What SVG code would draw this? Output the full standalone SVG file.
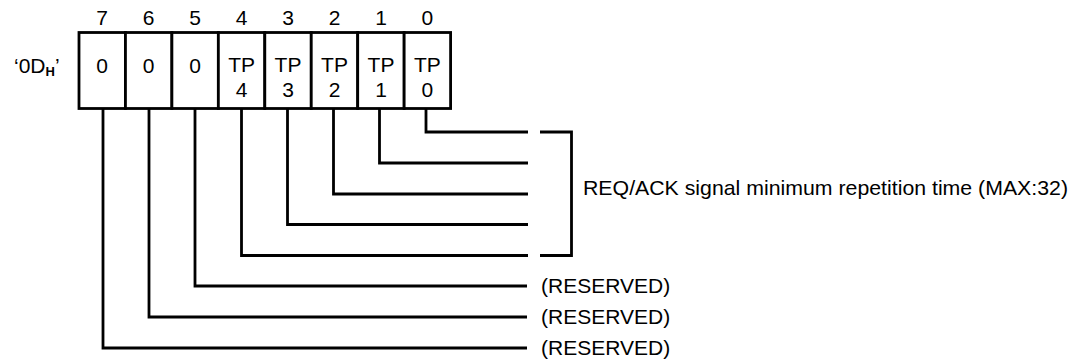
<svg xmlns="http://www.w3.org/2000/svg" width="1071" height="362" viewBox="0 0 1071 362">
<style>
text{font-family:"Liberation Sans",Arial,Helvetica,sans-serif;font-size:21px;fill:#000}
.c{text-anchor:middle}
.cell{fill:#fff;stroke:#000;stroke-width:2.8}
.ln{fill:none;stroke:#000;stroke-width:2.8;stroke-linejoin:miter;stroke-linecap:butt}
</style>
<rect width="1071" height="362" fill="#fff"/>
<g id="register-label"><text x="14" y="73">‘0D<tspan font-size="13" font-weight="bold" dy="3">H</tspan><tspan dy="-3">’</tspan></text></g>
<g id="bit-numbers">
<text class="c" x="102.2" y="25">7</text>
<text class="c" x="148.7" y="25">6</text>
<text class="c" x="195.1" y="25">5</text>
<text class="c" x="241.6" y="25">4</text>
<text class="c" x="288" y="25">3</text>
<text class="c" x="334.5" y="25">2</text>
<text class="c" x="381" y="25">1</text>
<text class="c" x="427.4" y="25">0</text>
</g>
<g id="bit7"><rect class="cell" x="79" y="32.5" width="46.45" height="76"/><text class="c" x="102.2" y="73">0</text></g>
<g id="bit6"><rect class="cell" x="125.45" y="32.5" width="46.45" height="76"/><text class="c" x="148.7" y="73">0</text></g>
<g id="bit5"><rect class="cell" x="171.9" y="32.5" width="46.45" height="76"/><text class="c" x="195.1" y="73">0</text></g>
<g id="bit4"><rect class="cell" x="218.35" y="32.5" width="46.45" height="76"/><text class="c" x="241.6" y="72">TP</text><text class="c" x="241.6" y="97">4</text></g>
<g id="bit3"><rect class="cell" x="264.8" y="32.5" width="46.45" height="76"/><text class="c" x="288" y="72">TP</text><text class="c" x="288" y="97">3</text></g>
<g id="bit2"><rect class="cell" x="311.25" y="32.5" width="46.45" height="76"/><text class="c" x="334.5" y="72">TP</text><text class="c" x="334.5" y="97">2</text></g>
<g id="bit1"><rect class="cell" x="357.7" y="32.5" width="46.45" height="76"/><text class="c" x="381" y="72">TP</text><text class="c" x="381" y="97">1</text></g>
<g id="bit0"><rect class="cell" x="404.15" y="32.5" width="46.45" height="76"/><text class="c" x="427.4" y="72">TP</text><text class="c" x="427.4" y="97">0</text></g>
<g id="connectors">
<path class="ln" d="M426 108.5V132H528"/>
<path class="ln" d="M379.5 108.5V163H528"/>
<path class="ln" d="M333.5 108.5V194H528"/>
<path class="ln" d="M287.5 108.5V224.5H528"/>
<path class="ln" d="M241.5 108.5V255.5H528"/>
<path class="ln" d="M195 108.5V286H527"/>
<path class="ln" d="M149 108.5V317H527"/>
<path class="ln" d="M103 108.5V348H527"/>
<path class="ln" d="M540 132H571.5V255.5H540"/>
</g>
<g id="labels">
<text x="583" y="195" textLength="485" lengthAdjust="spacingAndGlyphs">REQ/ACK signal minimum repetition time (MAX:32)</text>
<text x="541" y="293">(RESERVED)</text>
<text x="541" y="324">(RESERVED)</text>
<text x="541" y="355">(RESERVED)</text>
</g>
</svg>
